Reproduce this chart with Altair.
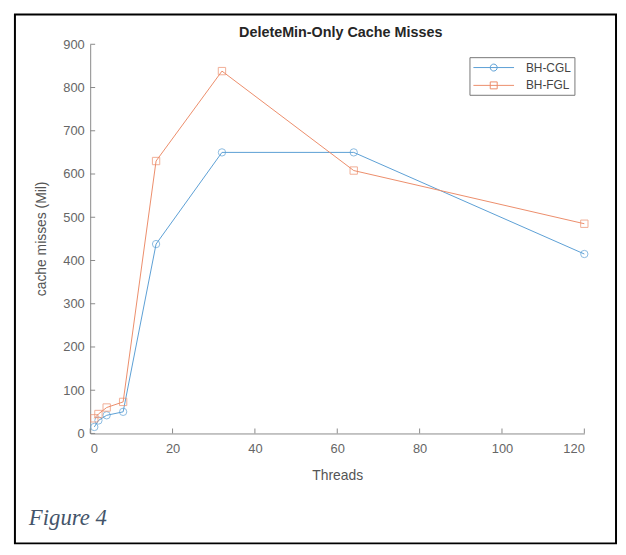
import altair as alt
import pandas as pd

# ---- data ----
threads = [1, 2, 4, 8, 16, 32, 64, 120]
bh_cgl = [15, 30, 42, 50, 438, 650, 650, 415]
bh_fgl = [35, 45, 60, 73, 630, 838, 608, 485]
series_names = ["BH-CGL", "BH-FGL"]
series_colors = ["#5b9fd4", "#ec8d6a"]
x_ticks = [0, 20, 40, 60, 80, 100, 120]
y_ticks = [0, 100, 200, 300, 400, 500, 600, 700, 800, 900]
chart_title = ["DeleteMin-Only Cache Misses"]
x_title = "Threads"
y_title = "cache misses (Mil)"
caption = ["Figure 4"]

df = pd.DataFrame({
    "threads": threads * 2,
    "misses": bh_cgl + bh_fgl,
    "series": [series_names[0]] * len(threads) + [series_names[1]] * len(threads),
})

W, H = 499, 393
AXIS_COLOR = "#8a8a8a"
LABEL_COLOR = "#666666"
FONT = "Liberation Sans"

x_scale = alt.Scale(domain=[0, 120], nice=False, zero=False)
y_scale = alt.Scale(domain=[0, 900], nice=False)
color_scale = alt.Scale(domain=series_names, range=series_colors)

x_axis = alt.Axis(values=x_ticks, title=x_title, grid=False, ticks=False,
                  labelPadding=9, labelFontSize=13, labelColor=LABEL_COLOR, labelFont=FONT,
                  domainColor=AXIS_COLOR, domainWidth=1,
                  titleFontSize=14, titleFontWeight="normal", titleColor="#555", titleFont=FONT,
                  titleY=42, titleBaseline="middle")
y_axis = alt.Axis(values=y_ticks, title=y_title, grid=False, ticks=False,
                  labelPadding=6, labelFontSize=13, labelColor=LABEL_COLOR, labelFont=FONT,
                  domainColor=AXIS_COLOR, domainWidth=1,
                  titleFontSize=14, titleFontWeight="normal", titleColor="#555", titleFont=FONT,
                  titleX=-49, titleY=196, titleBaseline="middle")

X = alt.X("threads:Q", scale=x_scale, axis=x_axis)
Y = alt.Y("misses:Q", scale=y_scale, axis=y_axis)

base = alt.Chart(df)

layers = []
shapes = ["circle", "square"]
for name, col, shp in zip(series_names, series_colors, shapes):
    sub = base.transform_filter(alt.datum.series == name)
    layers.append(sub.mark_line(strokeWidth=1, color=col).encode(x=X, y=Y))
    layers.append(sub.mark_point(shape=shp, filled=False, size=55, strokeWidth=1, color=col)
                  .encode(x=X, y=Y))

# legend symbols: a line sample with the marker in the middle
path_c = "M-2.93,0H2.93M0.5,0A0.5,0.5,0,1,1,-0.5,0A0.5,0.5,0,1,1,0.5,0"
path_f = "M-2.93,0H2.93M-0.5,-0.5H0.5V0.5H-0.5Z"
leg = alt.Legend(title=None, orient="none", legendX=383, legendY=13, padding=3,
                 strokeColor="#777", fillColor="white", cornerRadius=0,
                 symbolSize=196, symbolStrokeWidth=1, symbolOpacity=1,
                 symbolOffset=14, labelOffset=25, labelFontSize=12,
                 labelColor="#444", labelFont=FONT, rowPadding=4)
legend_layer = base.transform_filter(alt.datum.misses < 0).mark_point(filled=False).encode(
    x=X, y=Y,
    shape=alt.Shape("series:N", scale=alt.Scale(domain=series_names, range=[path_c, path_f]), legend=leg),
    color=alt.Color("series:N", scale=color_scale, legend=leg),
)

# inward ticks (MATLAB style)
xt = alt.Chart(pd.DataFrame({"threads": x_ticks})).mark_rule(color=AXIS_COLOR, strokeWidth=1).encode(
    x=X, y=alt.value(H), y2=alt.value(H - 5))
yt = alt.Chart(pd.DataFrame({"misses": y_ticks})).mark_rule(color=AXIS_COLOR, strokeWidth=1).encode(
    y=Y, x=alt.value(0), x2=alt.value(5))

# title, page frame and caption
ttl = alt.Chart(pd.DataFrame({"t": chart_title})).mark_text(
    align="center", baseline="alphabetic", font=FONT, fontWeight="bold",
    fontSize=14.5, color="#262626").encode(
    x=alt.value(253), y=alt.value(-7), text="t:N")
frame = alt.Chart(pd.DataFrame({"a": [0]})).mark_rect(
    fillOpacity=0, stroke="black", strokeWidth=2).encode(
    x=alt.value(-76), x2=alt.value(531), y=alt.value(-30), y2=alt.value(504))
cap = alt.Chart(pd.DataFrame({"t": caption})).mark_text(
    align="left", baseline="alphabetic", font="Liberation Serif", fontStyle="italic",
    fontSize=23, color="#44546A").encode(
    x=alt.value(-62), y=alt.value(485), text="t:N")

chart = alt.layer(frame, xt, yt, *layers, legend_layer, ttl, cap).properties(
    width=W, height=H,
    autosize=alt.AutoSizeParams(type="none"),
    padding={"left": 83, "top": 34, "right": 34, "bottom": 111},
    background="white",
).configure_view(strokeWidth=0)

chart.save("out.html", embed_options={"renderer": "svg", "actions": False})
